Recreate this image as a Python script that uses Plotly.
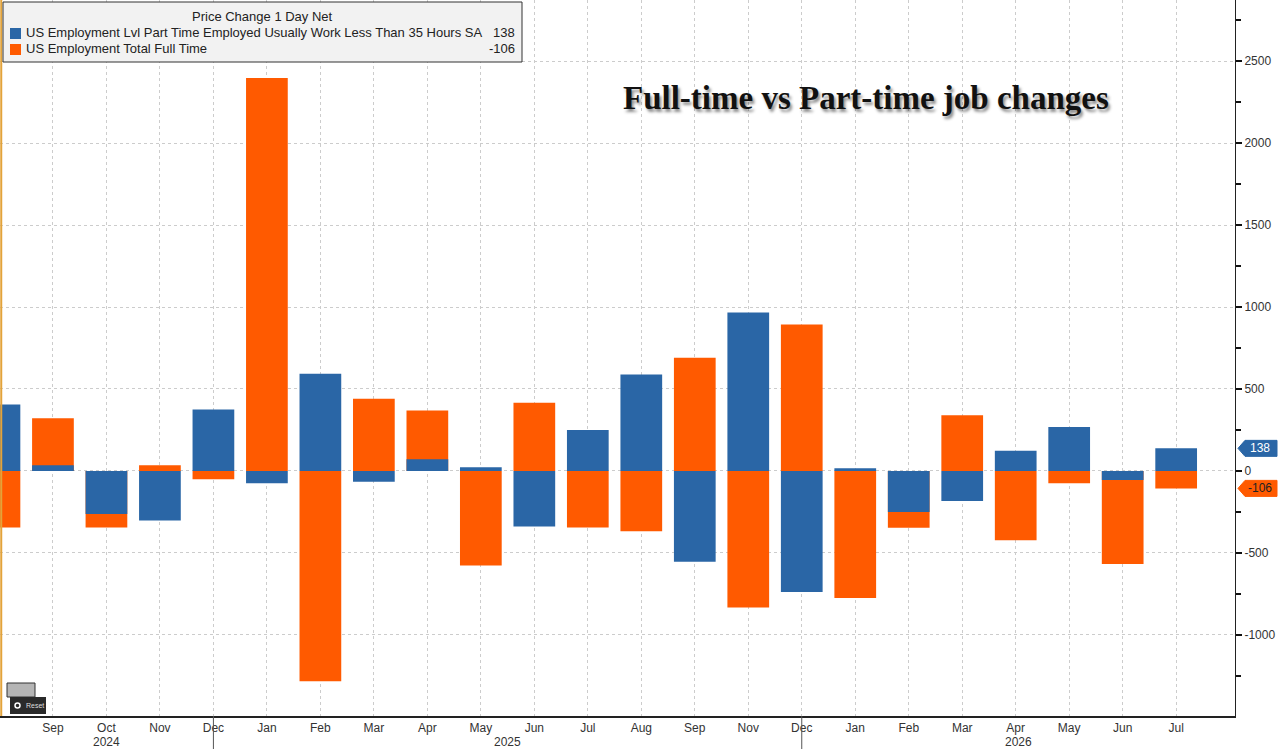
import plotly.graph_objects as go

# monthly changes (thousands); Oct 2025 not published
months = ['Aug', 'Sep', 'Oct', 'Nov', 'Dec',
          'Jan', 'Feb', 'Mar', 'Apr', 'May', 'Jun', 'Jul', 'Aug', 'Sep', 'Nov', 'Dec',
          'Jan', 'Feb', 'Mar', 'Apr', 'May', 'Jun', 'Jul']
years = [2024] * 5 + [2025] * 11 + [2026] * 7
part_time = [405, 35, -263, -302, 375, -75, 593, -65, 71, 23, -338, 250, 589, -554,
             966, -738, 16, -250, -183, 124, 269, -55, 138]
full_time = [-344, 322, -344, 35, -51, 2396, -1282, 440, 369, -576, 416, -344, -367, 691,
             -833, 894, -774, -346, 340, -422, -75, -567, -106]
yticks = [-1000, -500, 0, 500, 1000, 1500, 2000, 2500]

part_name = 'US Employment Lvl Part Time Employed Usually Work Less Than 35 Hours SA'
full_name = 'US Employment Total Full Time'
BLUE = '#2a66a6'
ORANGE = '#ff5a00'

W, H = 1280, 749
ML, MR, MT, MB = 0, 45, 0, 33
PW, PH = W - ML - MR, H - MT - MB
YMIN, YMAX = -1494, 2872


def fx(p):
    return p / PW


def fy(p):
    return 1 - p / PH


def vy(v):
    return (v - YMIN) / (YMAX - YMIN)


x = list(range(len(months)))

fig = go.Figure()
fig.add_trace(go.Bar(x=x, y=full_time, name=full_name, marker_color=ORANGE,
                     marker_line_width=0, width=0.78))
fig.add_trace(go.Bar(x=x, y=part_time, name=part_name, marker_color=BLUE,
                     marker_line_width=0, width=0.78))

shapes = []
annotations = []

# left highlight line
shapes.append(dict(type='line', xref='paper', yref='paper', x0=0.001, x1=0.001, y0=0, y1=1,
                   line=dict(color='#e3a33a', width=2)))

# year dividers and labels
dec_idx = [i for i, m in enumerate(months) if m == 'Dec']
for i in dec_idx:
    shapes.append(dict(type='line', xref='x', yref='paper', x0=i, x1=i, y0=0, y1=-33 / PH,
                       line=dict(color='#555', width=1)))
xr = [0.01, 23.1]
bounds = [xr[0]] + dec_idx + [xr[1]]
for k, yr in enumerate(sorted(set(years))):
    annotations.append(dict(x=(bounds[k] + bounds[k + 1]) / 2, y=fy(742), xref='x', yref='paper',
                            text=str(yr), showarrow=False, xanchor='center', yanchor='middle',
                            font=dict(size=12, color='#333', family='Liberation Sans')))

# legend box
shapes.append(dict(type='rect', xref='paper', yref='paper', x0=fx(3), x1=fx(522), y0=fy(62), y1=fy(2),
                   fillcolor='#f2f2f2', line=dict(color='#333', width=1), layer='above'))
annotations.append(dict(x=fx(262), y=fy(17), xref='paper', yref='paper', text='Price Change 1 Day Net',
                        showarrow=False, xanchor='center', yanchor='middle',
                        font=dict(size=13, color='#222', family='Liberation Sans')))
for row, (nm, col, val) in enumerate([(part_name, BLUE, part_time[-1]),
                                      (full_name, ORANGE, full_time[-1])]):
    yc = 33 + row * 16
    shapes.append(dict(type='rect', xref='paper', yref='paper', x0=fx(10), x1=fx(21),
                       y0=fy(yc + 6), y1=fy(yc - 5), fillcolor=col, line=dict(width=0), layer='above'))
    annotations.append(dict(x=fx(24), y=fy(yc), xref='paper', yref='paper', text=nm, showarrow=False,
                            xanchor='left', yanchor='middle',
                            font=dict(size=13, color='#222', family='Liberation Sans')))
    annotations.append(dict(x=fx(517), y=fy(yc), xref='paper', yref='paper', text=str(val), showarrow=False,
                            xanchor='right', yanchor='middle',
                            font=dict(size=13, color='#222', family='Liberation Sans')))

# last value tags on the right axis
hpx = 8 * (YMAX - YMIN) / PH
for val, col, tc in [(part_time[-1], BLUE, 'white'), (full_time[-1], ORANGE, '#222')]:
    y0, y1, yc = vy(val - hpx), vy(val + hpx), vy(val)
    shapes.append(dict(type='path', xref='paper', yref='paper',
                       path=f'M {fx(PW + 3)} {yc} L {fx(PW + 10)} {y1} L {fx(PW + 42)} {y1} '
                            f'L {fx(PW + 42)} {y0} L {fx(PW + 10)} {y0} Z',
                       fillcolor=col, line=dict(color=col, width=1)))
    annotations.append(dict(x=fx(PW + 25), y=val, xref='paper', yref='y', text=str(val), showarrow=False,
                            xanchor='center', yanchor='middle',
                            font=dict(size=12, color=tc, family='Liberation Sans')))

# title
annotations.append(dict(x=fx(866), y=fy(98), xref='paper', yref='paper',
                        text='<b>Full-time vs Part-time job changes</b>', showarrow=False,
                        xanchor='center', yanchor='middle',
                        font=dict(size=33, color='#111', family='Liberation Serif',
                                  shadow='2px 3px 3px rgba(0,0,0,0.45)')))

# reset widget
shapes.append(dict(type='rect', xref='paper', yref='paper', x0=fx(7), x1=fx(35), y0=fy(697), y1=fy(683),
                   fillcolor='#b5b5b5', line=dict(color='#333', width=1)))
shapes.append(dict(type='rect', xref='paper', yref='paper', x0=fx(10), x1=fx(46), y0=fy(714), y1=fy(697),
                   fillcolor='#2a2a2a', line=dict(width=0)))
shapes.append(dict(type='circle', xref='paper', yref='paper', x0=fx(15), x1=fx(20), y0=fy(708), y1=fy(703),
                   fillcolor='#2a2a2a', line=dict(color='white', width=1.5)))
annotations.append(dict(x=fx(24), y=fy(705), xref='paper', yref='paper', text='Reset', showarrow=False,
                        xanchor='left', yanchor='middle', font=dict(size=7, color='#ddd')))

fig.update_layout(
    width=W, height=H,
    margin=dict(l=ML, r=MR, t=MT, b=MB),
    barmode='overlay',
    showlegend=False,
    plot_bgcolor='white',
    paper_bgcolor='white',
    font=dict(family='Liberation Sans', size=12, color='#333'),
    shapes=shapes,
    annotations=annotations,
    xaxis=dict(range=xr, tickvals=x[1:], ticktext=months[1:], showgrid=True,
               gridcolor='#cccccc', griddash='dot', gridwidth=1, zeroline=False,
               showline=True, linecolor='#222', linewidth=1.5, ticks='',
               tickfont=dict(size=12, color='#333')),
    yaxis=dict(side='right', range=[YMIN, YMAX], tickvals=yticks, ticktext=[str(t) for t in yticks],
               showgrid=True, gridcolor='#cccccc', griddash='dot', gridwidth=1, zeroline=False,
               showline=True, linecolor='#222', linewidth=1, ticks='outside', ticklen=6,
               tickwidth=2, tickcolor='#111',
               minor=dict(ticks='outside', ticklen=5, tickcolor='#111', dtick=250, showgrid=False),
               tickfont=dict(size=12, color='#333')),
)

# page body margin would shift the 1280x749 figure
fig.write_html('out.html', config={'displayModeBar': False},
               post_script="document.body.style.margin='0';")
